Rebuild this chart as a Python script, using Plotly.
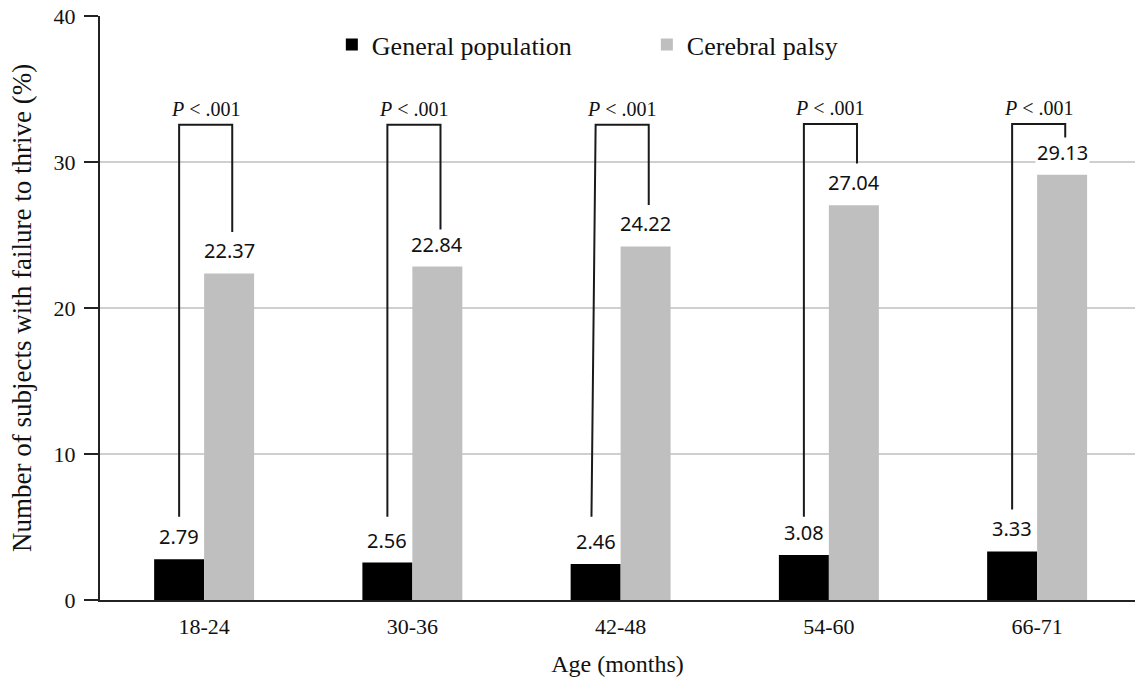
import plotly.graph_objects as go

categories = ["18-24", "30-36", "42-48", "54-60", "66-71"]
general_population = [2.79, 2.56, 2.46, 3.08, 3.33]
cerebral_palsy = [22.37, 22.84, 24.22, 27.04, 29.13]
p_labels = ["P < .001"] * 5
y_title = "Number of subjects with failure to thrive (%)"
x_title = "Age (months)"
# bracket geometry (data units): top height, left-leg bottom, right-leg bottom
bracket_top = [32.55, 32.55, 32.55, 32.6, 32.6]
left_leg_bottom = [5.7, 5.7, 5.7, 5.7, 6.2]
right_leg_bottom = [25.2, 25.2, 27.05, 29.9, 31.0]
left_leg_slant = [0.0, 0.0, -0.02, 0.0, 0.0]

SERIF = "Liberation Serif"
SANS = "Noto Sans"

fig = go.Figure()
fig.add_trace(go.Bar(name="General population", x=categories, y=general_population,
                     marker=dict(color="#000000", line=dict(width=0))))
fig.add_trace(go.Bar(name="Cerebral palsy", x=categories, y=cerebral_palsy,
                     marker=dict(color="#bfbfbf", line=dict(width=0))))

off = 0.12
annotations = []
shapes = []
for i, cat in enumerate(categories):
    annotations.append(dict(x=i - off, y=general_population[i], xref="x", yref="y",
                            text=f"{general_population[i]:.2f}", showarrow=False,
                            yanchor="bottom", yshift=7, bgcolor="white",
                            font=dict(family=SANS, size=20, color="#111")))
    annotations.append(dict(x=i + off, y=cerebral_palsy[i], xref="x", yref="y",
                            text=f"{cerebral_palsy[i]:.2f}", showarrow=False,
                            yanchor="bottom", yshift=7, bgcolor="white",
                            font=dict(family=SANS, size=20, color="#111")))
    xl = i - 0.12
    xr = i + 0.135
    path = (f"M {xl + left_leg_slant[i]},{left_leg_bottom[i]} L {xl},{bracket_top[i]} "
            f"L {xr},{bracket_top[i]} L {xr},{right_leg_bottom[i]}")
    shapes.append(dict(type="path", xref="x", yref="y", path=path,
                       line=dict(color="#1a1a1a", width=2)))
    p_text = p_labels[i].replace("<", "&lt;").replace("P", "<i>P</i>", 1)
    annotations.append(dict(x=(xl + xr) / 2, y=bracket_top[i], xref="x", yref="y",
                            text=p_text, showarrow=False, yanchor="bottom", yshift=3,
                            font=dict(family=SERIF, size=20, color="#111")))

# y-axis title placed as rotated text left of the tick labels
annotations.append(dict(x=-0.0754, y=0.5, xref="paper", yref="paper", text=y_title,
                        textangle=-90, showarrow=False, xanchor="center", yanchor="middle",
                        font=dict(family=SERIF, size=27, color="#111")))

fig.update_layout(
    width=1135, height=686,
    margin=dict(l=100, r=0, t=16, b=86),
    paper_bgcolor="white", plot_bgcolor="white",
    barmode="group", bargap=0.52, bargroupgap=0,
    showlegend=True,
    legend=dict(orientation="h", x=0.224, xanchor="left", y=0.951, yanchor="middle",
                font=dict(family=SERIF, size=26, color="#111"),
                entrywidth=270, entrywidthmode="pixels", bgcolor="rgba(0,0,0,0)"),
    annotations=annotations,
    shapes=shapes,
    xaxis=dict(type="category", range=[-0.5, 4.47], showline=True, linecolor="#222",
               linewidth=2, ticks="", showgrid=False, ticklabelstandoff=6,
               tickfont=dict(family=SERIF, size=22, color="#111"),
               title=dict(text=x_title, font=dict(family=SERIF, size=24, color="#111"),
                          standoff=17)),
    yaxis=dict(range=[0, 40], tickvals=[0, 10, 20, 30, 40], showline=True, linecolor="#222",
               linewidth=2, ticks="outside", ticklen=14, tickwidth=2, tickcolor="#222",
               showgrid=True, gridcolor="#cfcfcf", gridwidth=1.5, zeroline=False,
               ticklabelstandoff=4,
               tickfont=dict(family=SERIF, size=22, color="#111")),
)

fig.write_html("out.html", config={"displayModeBar": False},
               post_script="document.body.style.margin='0';")
